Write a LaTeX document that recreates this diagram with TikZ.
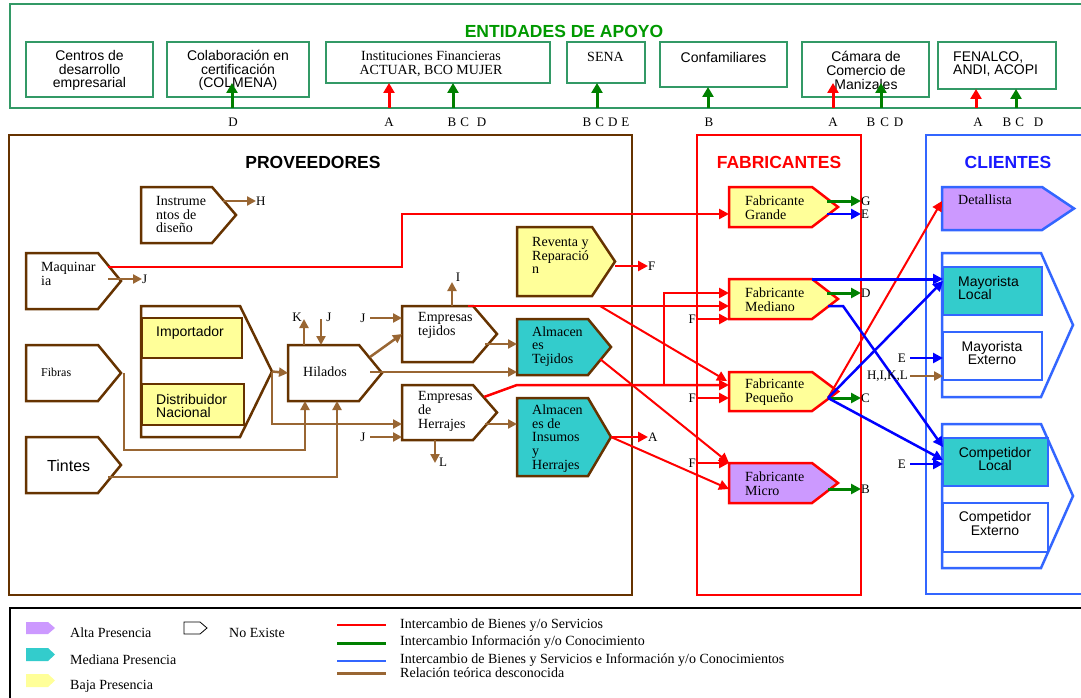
\documentclass[tikz,border=0pt]{standalone}
\usepackage{fontspec}
\setmainfont{Liberation Serif}
\setsansfont{Liberation Sans}
\usetikzlibrary{arrows.meta,calc}
\definecolor{gbox}{HTML}{339966}
\definecolor{gtitle}{HTML}{009900}
\definecolor{agreen}{HTML}{008000}
\definecolor{brn}{HTML}{663300}
\definecolor{brnarr}{HTML}{996633}
\definecolor{cyel}{HTML}{FFFF99}
\definecolor{cteal}{HTML}{33CCCC}
\definecolor{cpurp}{HTML}{CC99FF}
\definecolor{cblue}{HTML}{3366FF}
\definecolor{ablue}{HTML}{0000FF}
\definecolor{ctitle}{HTML}{1A1AFF}
% pentagon (arrow-shaped) node: name, x1, y1, xflat, xtip, y2, style
\newcommand\pentnode[7]{%
  \path[#7] (#2,#3) -- (#4,#3) -- (#5,{(#3+#6)/2}) -- (#4,#6) -- (#2,#6) -- cycle;
  \node[inner sep=0pt, outer sep=0pt, minimum width={(#5-#2)*1pt}, minimum height={(#6-#3)*1pt}] (#1) at ({(#2+#5)/2},{(#3+#6)/2}) {};
}
% rectangle node: name, x1, y1, x2, y2, style
\newcommand\rectnode[6]{%
  \node[#6, inner sep=0pt, outer sep=0pt, minimum width={(#4-#2)*1pt}, minimum height={(#5-#3)*1pt}] (#1) at ({(#2+#4)/2},{(#3+#5)/2}) {};
}
\begin{document}
\begin{tikzpicture}[x=1pt,y=-1pt,
  ser/.style={font=\fontsize{14}{13.6}\selectfont, inner sep=0pt, align=left},
  serc/.style={ser, align=center},
  sans/.style={font=\sffamily\fontsize{14}{13.6}\selectfont, inner sep=0pt, align=left},
  sansc/.style={sans, align=center},
  lbl/.style={font=\fontsize{13}{13}\selectfont, inner sep=0pt},
  legt/.style={font=\fontsize{14}{14}\selectfont, inner sep=0pt, anchor=west},
  ttl/.style={font=\sffamily\bfseries\fontsize{17.5}{20}\selectfont, inner sep=0pt},
  arw/.style={-{Triangle[length=10pt,width=10pt]}},
  garr/.style={arw, draw=agreen, line width=3pt},
  garrb/.style={-{Triangle[length=10pt,width=11pt]}, draw=agreen, line width=3pt},
  rarrb/.style={-{Triangle[length=10pt,width=11pt]}, draw=red, line width=3pt},
  rarr/.style={arw, draw=red, line width=2.5pt},
  rarrt/.style={arw, draw=red, line width=2pt},
  barr/.style={-{Triangle[length=9pt,width=9pt]}, draw=brnarr, line width=2.5pt},
  blarr/.style={arw, draw=ablue, line width=2.5pt},
  ebox/.style={draw=gbox, line width=2.5pt, fill=white},
  bshape/.style={draw=brn, line width=2.5pt, fill=white},
  fshape/.style={draw=red, line width=2.5pt, fill=cyel},
  cshape/.style={draw=cblue, line width=2.5pt, fill=white},
]
\useasboundingbox (0,0) rectangle (1081,698);
\fill[white] (0,0) rectangle (1081,698);

% ---------------- ENTIDADES DE APOYO ----------------
\rectnode{ent}{10}{4}{1092}{108}{draw=gbox,line width=2.5pt}
\node[ttl, text=gtitle] (tent) at (564,31) {ENTIDADES DE APOYO};
\rectnode{e1}{26}{42}{153}{97}{ebox}
\rectnode{e2}{167}{42}{309}{97}{ebox}
\rectnode{e3}{326}{42}{550}{83}{ebox}
\rectnode{e4}{567}{42}{645}{83}{ebox}
\rectnode{e5}{660}{42}{787}{87}{ebox}
\rectnode{e6}{802}{42}{929}{97}{ebox}
\rectnode{e7}{938}{42}{1056}{89}{ebox}
\node[sansc] (te1) at (89.5,70.5) {Centros de\\desarrollo\\empresarial};
\node[sansc] (te2) at (238,70.5) {Colaboración en\\certificación\\(COLMENA)};
\node[serc] (te3) at (431,64) {Instituciones Financieras\\ACTUAR, BCO MUJER};
\node[serc] (te4) at (605.5,57) {SENA};
\node[sansc] (te5) at (723.5,57) {Confamiliares};
\node[sansc] (te6) at (866,70.5) {Cámara de\\Comercio de\\Manizales};
\node[sans, anchor=west] (te7) at (953,64) {FENALCO,\\ANDI, ACOPI};

\draw[garrb] (ent.south -| 232,0) -- (232,83);
\draw[rarrb] (ent.south -| 389,0) -- (e3.south -| 389,0);
\draw[garrb] (ent.south -| 453,0) -- (e3.south -| 453,0);
\draw[garrb] (ent.south -| 597,0) -- (e4.south -| 597,0);
\draw[garrb] (ent.south -| 708,0) -- (e5.south -| 708,0);
\draw[rarrb] (ent.south -| 833,0) -- (833,83);
\draw[garrb] (ent.south -| 881,0) -- (881,83);
\draw[rarrb] (ent.south -| 976,0) -- (e7.south -| 976,0);
\draw[garrb] (ent.south -| 1016,0) -- (e7.south -| 1016,0);

\node[lbl] (l1) at (233,122) {D};
\node[lbl] (l2) at (389,122) {A};
\node[lbl] (l3) at (467,122) {B\hspace{4pt}C\hspace{8pt}D};
\node[lbl] (l4) at (606,122) {B\hspace{4pt}C\hspace{4pt}D\hspace{4pt}E};
\node[lbl] (l5) at (709,122) {B};
\node[lbl] (l6) at (833,122) {A};
\node[lbl] (l7) at (885,122) {B\hspace{5pt}C\hspace{5pt}D};
\node[lbl] (l8) at (978,122) {A};
\node[lbl] (l9) at (1023,122) {B\hspace{4pt}C\hspace{10pt}D};

% ---------------- FRAMES ----------------
\rectnode{prov}{9}{135}{632}{595}{draw=brn,line width=2.5pt}
\node[ttl] (tprov) at (313,162) {PROVEEDORES};
\rectnode{fab}{697}{135}{861}{595}{draw=red,line width=2.5pt}
\node[ttl, text=red] (tfab) at (779,162) {FABRICANTES};
\rectnode{cli}{926}{135}{1100}{594}{draw=cblue,line width=2.5pt}
\node[ttl, text=ctitle] (tcli) at (1008,162) {CLIENTES};

% ---------------- PROVEEDORES shapes ----------------
\pentnode{ins}{141}{187}{212}{236}{243}{bshape}
\pentnode{maq}{26}{253}{98}{121}{309}{bshape}
\pentnode{grp}{141}{306}{240}{272}{437}{bshape}
\pentnode{fib}{26}{345}{98}{121}{401}{bshape}
\pentnode{tin}{26}{437}{98}{121}{493}{bshape}
\pentnode{hil}{288}{345}{359}{382}{401}{bshape}
\pentnode{et}{402}{306}{473}{497}{362}{bshape}
\pentnode{eh}{402}{385}{473}{497}{440}{bshape}
\pentnode{at}{517}{319}{588}{611}{375}{bshape,fill=cteal}
\pentnode{ai}{517}{398}{588}{611}{476}{bshape,fill=cteal}
\pentnode{rr}{517}{227}{592}{615}{296}{bshape,fill=cyel}
\rectnode{imp}{142}{318}{242}{358}{bshape,fill=cyel}
\rectnode{dis}{142}{384}{244}{425}{bshape,fill=cyel}

\node[ser, anchor=west] (tins) at (156,214.5) {Instrume\\ntos de\\diseño};
\node[ser, anchor=west] (tmaq) at (41,274) {Maquinar\\ia};
\node[sans, anchor=west] (timp) at (156,333) {Importador};
\node[sans, anchor=west] (tdis) at (156,406) {Distribuidor\\Nacional};
\node[font=\fontsize{12}{12}\selectfont, inner sep=0pt, anchor=west] (tfib) at (41,372) {Fibras};
\node[font=\sffamily\fontsize{16}{16}\selectfont, inner sep=0pt, anchor=west] (ttin) at (47,466) {Tintes};
\node[ser, anchor=west] (thil) at (303,372) {Hilados};
\node[ser, anchor=west] (tet) at (418,325.5) {Empresas\\tejidos};
\node[ser, anchor=west] (teh) at (418,411.5) {Empresas\\de\\Herrajes};
\node[ser, anchor=west] (tat) at (532,346.5) {Almacen\\es\\Tejidos};
\node[ser, anchor=west] (tai) at (532,438.5) {Almacen\\es de\\Insumos\\y\\Herrajes};
\node[ser, anchor=west] (trr) at (532,255.5) {Reventa y\\Reparació\\n};

% ---------------- FABRICANTES shapes ----------------
\pentnode{fg}{729}{187}{812}{838}{227}{fshape}
\pentnode{fm}{729}{279}{812}{838}{319}{fshape}
\pentnode{fp}{729}{372}{812}{838}{411}{fshape}
\pentnode{fmi}{729}{463}{812}{838}{503}{fshape,fill=cpurp}
\node[ser, anchor=west] (tfg) at (745,208) {Fabricante\\Grande};
\node[ser, anchor=west] (tfm) at (745,300) {Fabricante\\Mediano};
\node[ser, anchor=west] (tfp) at (745,392) {Fabricante\\Pequeño};
\node[ser, anchor=west] (tfmi) at (745,484) {Fabricante\\Micro};

% ---------------- CLIENTES shapes ----------------
\pentnode{det}{942}{187}{1042}{1074}{230}{cshape,fill=cpurp}
\pentnode{may}{942}{253}{1041}{1073}{397}{cshape}
\rectnode{ml}{943}{267}{1042}{315}{cshape,fill=cteal}
\rectnode{me}{943}{332}{1042}{380}{cshape}
\pentnode{com}{942}{424}{1041}{1073}{568}{cshape}
\rectnode{cl}{943}{438}{1048}{486}{cshape,fill=cteal}
\rectnode{ce}{943}{503}{1048}{552}{cshape}
\node[ser, anchor=west] (tdet) at (958,200) {Detallista};
\node[sans, anchor=west] (tml) at (958,288) {Mayorista\\Local};
\node[sansc] (tme) at (992,353) {Mayorista\\Externo};
\node[sansc] (tcl) at (995,459) {Competidor\\Local};
\node[sansc] (tce) at (995,523.5) {Competidor\\Externo};

% ---------------- brown connectors ----------------
\node[lbl, anchor=west] (lH) at (256,201) {H};
\draw[barr] (223,201) -- (lH.west);
\node[lbl, anchor=west] (lJ1) at (142,279) {J};
\draw[barr] (108,279) -- (lJ1.west);
\draw[barr] (grp.east) -- (hil.west);
\draw[barr] (grp.east) -- (272,424) -- (eh.west |- 0,424);
\draw[barr] (124,373) -- (124,450) -- (305,450) -- (hil.south -| 305,0);
\draw[barr] (108,477) -- (337,477) -- (hil.south -| 337,0);
\node[lbl] (lK) at (297,317) {K};
\draw[barr] (hil.north -| 304,0) -- (304,319);
\node[lbl] (lJ2) at (329,317) {J};
\draw[barr] (321,319) -- (hil.north -| 321,0);
\node[lbl] (lJ3) at (363,318) {J};
\draw[barr] (370,318) -- (et.west |- 0,318);
\draw[barr] (370,357) -- (402,334);
\draw[barr] (370,372) -- (at.west |- 0,372);
\draw[barr] (485,344) -- (at.west |- 0,344);
\node[lbl] (lI) at (458,277) {I};
\draw[barr] (et.north -| 452,0) -- (452,282);
\draw[barr] (485,424) -- (ai.west |- 0,424);
\node[lbl] (lJ4) at (363,437) {J};
\draw[barr] (370,437) -- (eh.west |- 0,437);
\node[lbl] (lL) at (443,462) {L};
\draw[barr] (eh.south -| 435,0) -- (435,463);

% ---------------- red connectors ----------------
\draw[rarr] (108,267) -- (402,267) -- (402,214) -- (fg.west |- 0,214);
\node[lbl, anchor=west] (lF1) at (648,266) {F};
\draw[rarr] (615,266) -- (lF1.west);
\draw[rarr] (468,306) -- (fm.west |- 0,306);
\draw[rarrt] (600,306) -- (727,381);
\draw[rarr] (484,397) -- (517,385) -- (fp.west |- 0,385);
\draw[rarr] (664,385) -- (664,293) -- (fm.west |- 0,293);
\node[lbl, anchor=east] (lF2) at (696,319) {F};
\draw[rarr] (fab.west |- lF2) -- (fm.west |- lF2);
\node[lbl, anchor=east] (lF3) at (696,398) {F};
\draw[rarr] (fab.west |- lF3) -- (fp.west |- lF3);
\node[lbl, anchor=east] (lF4) at (696,463) {F};
\draw[rarr] (fab.west |- lF4) -- (fmi.west |- lF4);
\draw[rarrt] (600,359) -- (fmi.north west);
\node[lbl, anchor=west] (lA) at (648,437) {A};
\draw[rarr] (ai.east) -- (lA.west);
\draw[rarrt] (ai.east) -- (fmi.west |- 0,489);
\draw[rarrt] (828,398) -- (det.west |- 0,201);

% ---------------- green connectors ----------------
\node[lbl, anchor=west] (lG) at (861,201) {G};
\draw[garr] (827,201) -- (lG.west);
\node[lbl, anchor=west] (lD) at (861,293) {D};
\draw[garr] (827,293) -- (lD.west);
\node[lbl, anchor=west] (lC) at (861,398) {C};
\draw[garr] (828,398) -- (lC.west);
\node[lbl, anchor=west] (lB) at (861,489) {B};
\draw[garr] (828,489) -- (lB.west);

% ---------------- blue connectors ----------------
\node[lbl, anchor=west] (lE1) at (861,214) {E};
\draw[blarr] (827,214) -- (lE1.west);
\draw[blarr, line width=3pt] (fm.north -| 812,0) -- (ml.west |- 0,279);
\draw[blarr] (828,306) -- (843,306) -- (cl.west |- 0,447);
\draw[blarr] (828,398) -- (ml.west |- 0,281);
\draw[blarr] (828,398) -- (cl.west |- 0,460);
\node[lbl, anchor=east] (lE2) at (906,358) {E};
\draw[blarr] (910,358) -- (me.west |- 0,358);
\node[lbl, anchor=east] (lE3) at (906,464) {E};
\draw[blarr] (910,464) -- (cl.west |- 0,464);
\node[lbl, anchor=east] (lHIKL) at (908,376) {H,I,K,L};
\draw[barr] (910,376) -- (me.west |- 0,376);

% ---------------- LEGEND ----------------
\rectnode{leg}{10}{608}{1100}{712}{draw=black,line width=2pt}
\pentnode{lg1}{26}{622}{48}{55}{634}{fill=cpurp}
\pentnode{lg2}{26}{648}{48}{55}{661}{fill=cteal}
\pentnode{lg3}{26}{674}{48}{55}{687}{fill=cyel}
\pentnode{lg4}{184}{622}{200}{207}{634}{draw=black,line width=0.8pt,fill=white}
\node[legt] (lt1) at (70,633) {Alta Presencia};
\node[legt] (lt2) at (70,660) {Mediana Presencia};
\node[legt] (lt3) at (70,686) {Baja Presencia};
\node[legt] (lt4) at (229,633) {No Existe};
\node[legt] (lt5) at (400,625) {Intercambio de Bienes y/o Servicios};
\node[legt] (lt6) at (400,642) {Intercambio Información y/o Conocimiento};
\node[legt] (lt7) at (400,660) {Intercambio de Bienes y Servicios e Información y/o Conocimientos};
\node[legt] (lt8) at (400,673) {Relación teórica desconocida};
\draw[red, line width=2pt] (337,625) -- (386,625);
\draw[agreen, line width=3pt] (337,643) -- (386,643);
\draw[cblue, line width=2pt] (337,661) -- (386,661);
\draw[brnarr, line width=3pt] (337,673) -- (386,673);
\end{tikzpicture}
\end{document}
